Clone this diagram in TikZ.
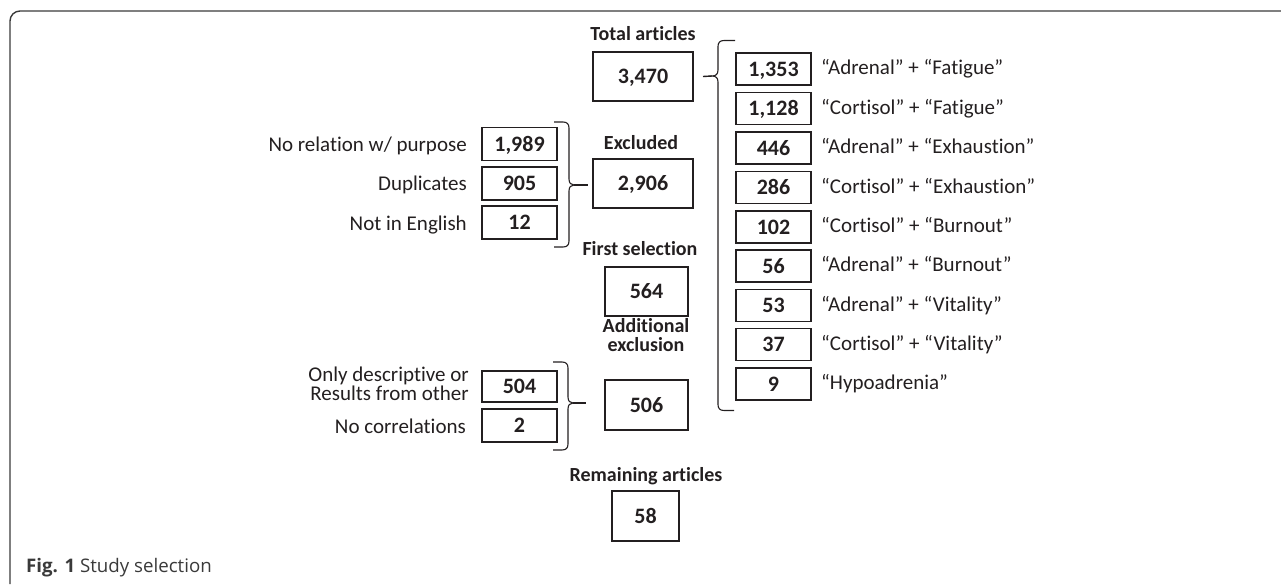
\documentclass[tikz,border=0pt]{standalone}
\usepackage{fontspec}
\setmainfont[Ligatures=NoCommon]{Carlito}
\newfontfamily\capfont{Open Sans}
\definecolor{ink}{HTML}{231F20}
\definecolor{capgray}{HTML}{3A3A3A}
\begin{document}
\begin{tikzpicture}[x=1pt,y=-1pt,
  bigbox/.style={draw=ink, line width=2pt, inner sep=0pt, minimum height=49pt,
    font=\fontsize{22}{26}\selectfont\bfseries, text=ink, text height=14pt, text depth=0pt},
  smallbox/.style={draw=ink, line width=1.1pt, inner sep=0pt, minimum width=75pt,
    font=\fontsize{22}{26}\selectfont\bfseries, text=ink, text height=14pt, text depth=0pt},
  head/.style={font=\fontsize{20}{19}\selectfont\bfseries, text=ink, inner sep=0pt, anchor=base},
  desc/.style={font=\fontsize{21}{20}\selectfont, text=ink, inner sep=0pt},
  brace/.style={draw=ink, line width=1.1pt},
  tick/.style={draw=ink, line width=1.4pt}]
\useasboundingbox (0,0) rectangle (1281,584);
% frame
\draw[draw=capgray, line width=1.4pt, rounded corners=10pt] (10,584) -- (10,11) -- (1281,11);

% centre column
\node[head] (tlab) at (643,40.7) {Total articles};
\node[bigbox, minimum width=100pt] (total) at (643,76.5) {3,470};
\node[head] (elab) at (641,149) {Excluded};
\node[bigbox, minimum width=100pt] (excl) at (643,183.5) {2,906};
\node[head] (flab) at (640,255.7) {First selection};
\node[bigbox, minimum width=83pt] (first) at (646.5,291.5) {564};
\node[head, align=center, anchor=base] (alab) at (646,351.7) {Additional\\exclusion};
\node[bigbox, minimum width=83pt, minimum height=50pt] (add) at (646.5,405) {506};
\node[head] (rlab) at (646,481.7) {Remaining articles};
\node[bigbox, minimum width=67pt, minimum height=50pt] (rem) at (645.5,516) {58};

% right column
\foreach \n/\yc/\t [count=\i] in {
  1{,}353/69/{“Adrenal” + “Fatigue”},
  1{,}128/108.5/{“Cortisol” + “Fatigue”},
  446/148/{“Adrenal” + “Exhaustion”},
  286/187.5/{“Cortisol” + “Exhaustion”},
  102/227/{“Cortisol” + “Burnout”},
  56/266/{“Adrenal” + “Burnout”},
  53/305.5/{“Adrenal” + “Vitality”},
  37/344.5/{“Cortisol” + “Vitality”},
  9/384/{“Hypoadrenia”}}{
  \node[smallbox, minimum height=32pt] (r\i) at (773.5,\yc) {\n};
  \node[desc, anchor=base west] (rt\i) at (821,\yc+5.5) {\t};
}

% left column (excluded)
\node[smallbox, minimum height=33pt] (l1) at (519.5,144) {1,989};
\node[smallbox, minimum height=33pt] (l2) at (519.5,183.5) {905};
\node[smallbox, minimum height=33pt] (l3) at (519.5,222.5) {12};
\node[desc, anchor=base east] (lt1) at (467,151) {No relation w/ purpose};
\node[desc, anchor=base east] (lt2) at (467,190.7) {Duplicates};
\node[desc, anchor=base east] (lt3) at (467,230) {Not in English};

% left column (additional exclusion)
\node[smallbox, minimum height=31pt] (a1) at (519.5,386.5) {504};
\node[smallbox, minimum height=33pt] (a2) at (519.5,425.5) {2};
\node[desc, anchor=base east] (at1) at (469,381.7) {Only descriptive or};
\node[desc, anchor=base east] (at1b) at (469,400.7) {Results from other};
\node[desc, anchor=base east] (at2) at (466,433.3) {No correlations};

% big brace
\coordinate (tipR) at (712,76);
\draw[brace] (735,40.5) -- (724,40.5) .. controls (720,40.5) and (718,42.5) .. (718,46.5)
  -- (718,70) .. controls (718,74) and (716,76) .. (tipR)
  .. controls (716,76) and (718,78) .. (718,82)
  -- (718,404.5) .. controls (718,408.5) and (720,410.5) .. (724,410.5) -- (734,410.5);
\draw[tick] ([xshift=9pt]total.east) -- (tipR);

% brace for Excluded
\coordinate (tipE) at (574,185);
\draw[brace] (554,122) -- (563,122) .. controls (567,122) and (569,124) .. (569,128)
  -- (569,179) .. controls (569,183) and (571,185) .. (tipE)
  .. controls (571,185) and (569,187) .. (569,191)
  -- (569,241) .. controls (569,245) and (567,247) .. (563,247) -- (554,247);
\draw[tick] (tipE) -- ([xshift=-4pt]excl.west |- tipE);

% brace for Additional exclusion
\coordinate (tipA) at (573,403);
\draw[brace] (553,362) -- (562,362) .. controls (566,362) and (568,364) .. (568,368)
  -- (568,397) .. controls (568,401) and (570,403) .. (tipA)
  .. controls (570,403) and (568,405) .. (568,409)
  -- (568,444) .. controls (568,448) and (566,450) .. (562,450) -- (553,450);
\draw[tick] (tipA) -- ([xshift=-18pt]add.west |- tipA);

% caption
\node[anchor=base west, inner sep=0pt, font=\capfont\fontsize{18.7}{22}\selectfont, text=capgray] (cap) at (26,572.5) {\textbf{Fig. 1} Study selection};
\end{tikzpicture}
\end{document}
